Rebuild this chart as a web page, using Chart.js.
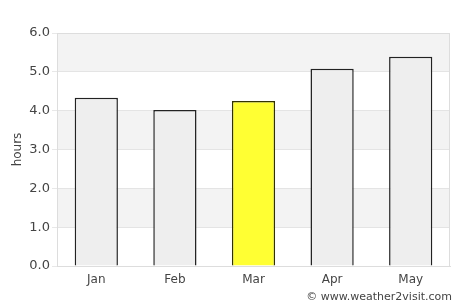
<!DOCTYPE html>
<html>
<head>
<meta charset="utf-8">
<script src="https://cdn.jsdelivr.net/npm/chart.js@4.4.0/dist/chart.umd.min.js"></script>
<style>
  html, body { margin: 0; padding: 0; background: #fff; }
  #wrap { width: 474px; height: 308px; }
</style>
</head>
<body>
<div id="wrap"><canvas id="sun-chart" width="474" height="308"></canvas></div>
<script>
var months = ["Jan", "Feb", "Mar", "Apr", "May"];
var hours = [4.33, 4.02, 4.25, 5.08, 5.39];
var highlight = "Mar";
var yTicks = [0, 1, 2, 3, 4, 5, 6];
var yLabel = "hours";

var fills = months.map(function (m) { return m === highlight ? "#ffff33" : "#eeeeee"; });
var borders = months.map(function (m) { return m === highlight ? "#333300" : "#222222"; });

// alternating grey bands behind the bars + frame + axis title + credit line
var bandPlugin = {
    id: "bands",
    beforeDraw: function (chart) {
        var ctx = chart.ctx, area = chart.chartArea, y = chart.scales.y;
        ctx.save();
        ctx.fillStyle = "#f3f3f3";
        for (var i = 1; i + 1 < yTicks.length; i += 2) {
            var top = y.getPixelForValue(yTicks[i + 1]);
            var bot = y.getPixelForValue(yTicks[i]);
            ctx.fillRect(area.left, top, area.right - area.left, bot - top);
        }
        ctx.restore();
    },
    afterDraw: function (chart) {
        var ctx = chart.ctx, area = chart.chartArea;
        ctx.save();
        ctx.strokeStyle = "#dddddd";
        ctx.lineWidth = 1;
        ctx.strokeRect(area.left + 0.5, area.top + 0.5, area.right - area.left - 1, area.bottom - area.top);
        ctx.fillStyle = "#444";
        ctx.font = "12px 'DejaVu Sans'";
        ctx.textAlign = "center";
        ctx.textBaseline = "middle";
        ctx.translate(18, (area.top + area.bottom) / 2);
        ctx.rotate(-Math.PI / 2);
        ctx.fillText(yLabel, 0, 0);
        ctx.restore();
        ctx.save();
        ctx.font = "11px 'DejaVu Sans'";
        ctx.fillStyle = "#444";
        ctx.textAlign = "right";
        ctx.textBaseline = "middle";
        ctx.fillText("\u00a9 www.weather2visit.com", 452, 297);
        ctx.restore();
    }
};

new Chart("sun-chart", {
    type: "bar",
    data: {
        labels: months,
        datasets: [{
            data: hours,
            backgroundColor: fills,
            borderColor: borders,
            borderWidth: 1.5,
            categoryPercentage: 1,
            barPercentage: 0.55
        }]
    },
    options: {
        responsive: false,
        animation: false,
        layout: { padding: { top: 33, right: 24, bottom: 0, left: 0 } },
        plugins: { legend: { display: false }, tooltip: { enabled: false } },
        scales: {
            x: {
                grid: { display: false, drawTicks: false },
                border: { display: true, color: "#dddddd" },
                ticks: { color: "#444", font: { family: "DejaVu Sans", size: 12 }, padding: 7 },
                afterFit: function (s) { s.height = 42; }
            },
            y: {
                min: 0, max: 6,
                position: "left",
                grid: { color: "#e4e4e4", tickLength: 5, tickColor: "#e8e8e8" },
                border: { display: true, color: "#dddddd" },
                ticks: {
                    stepSize: 1,
                    color: "#444",
                    font: { family: "DejaVu Sans", size: 13 },
                    padding: 2,
                    callback: function (v) { return v.toFixed(1); }
                },
                afterFit: function (s) { s.width = 57; }
            }
        }
    },
    plugins: [bandPlugin]
});
</script>
</body>
</html>
